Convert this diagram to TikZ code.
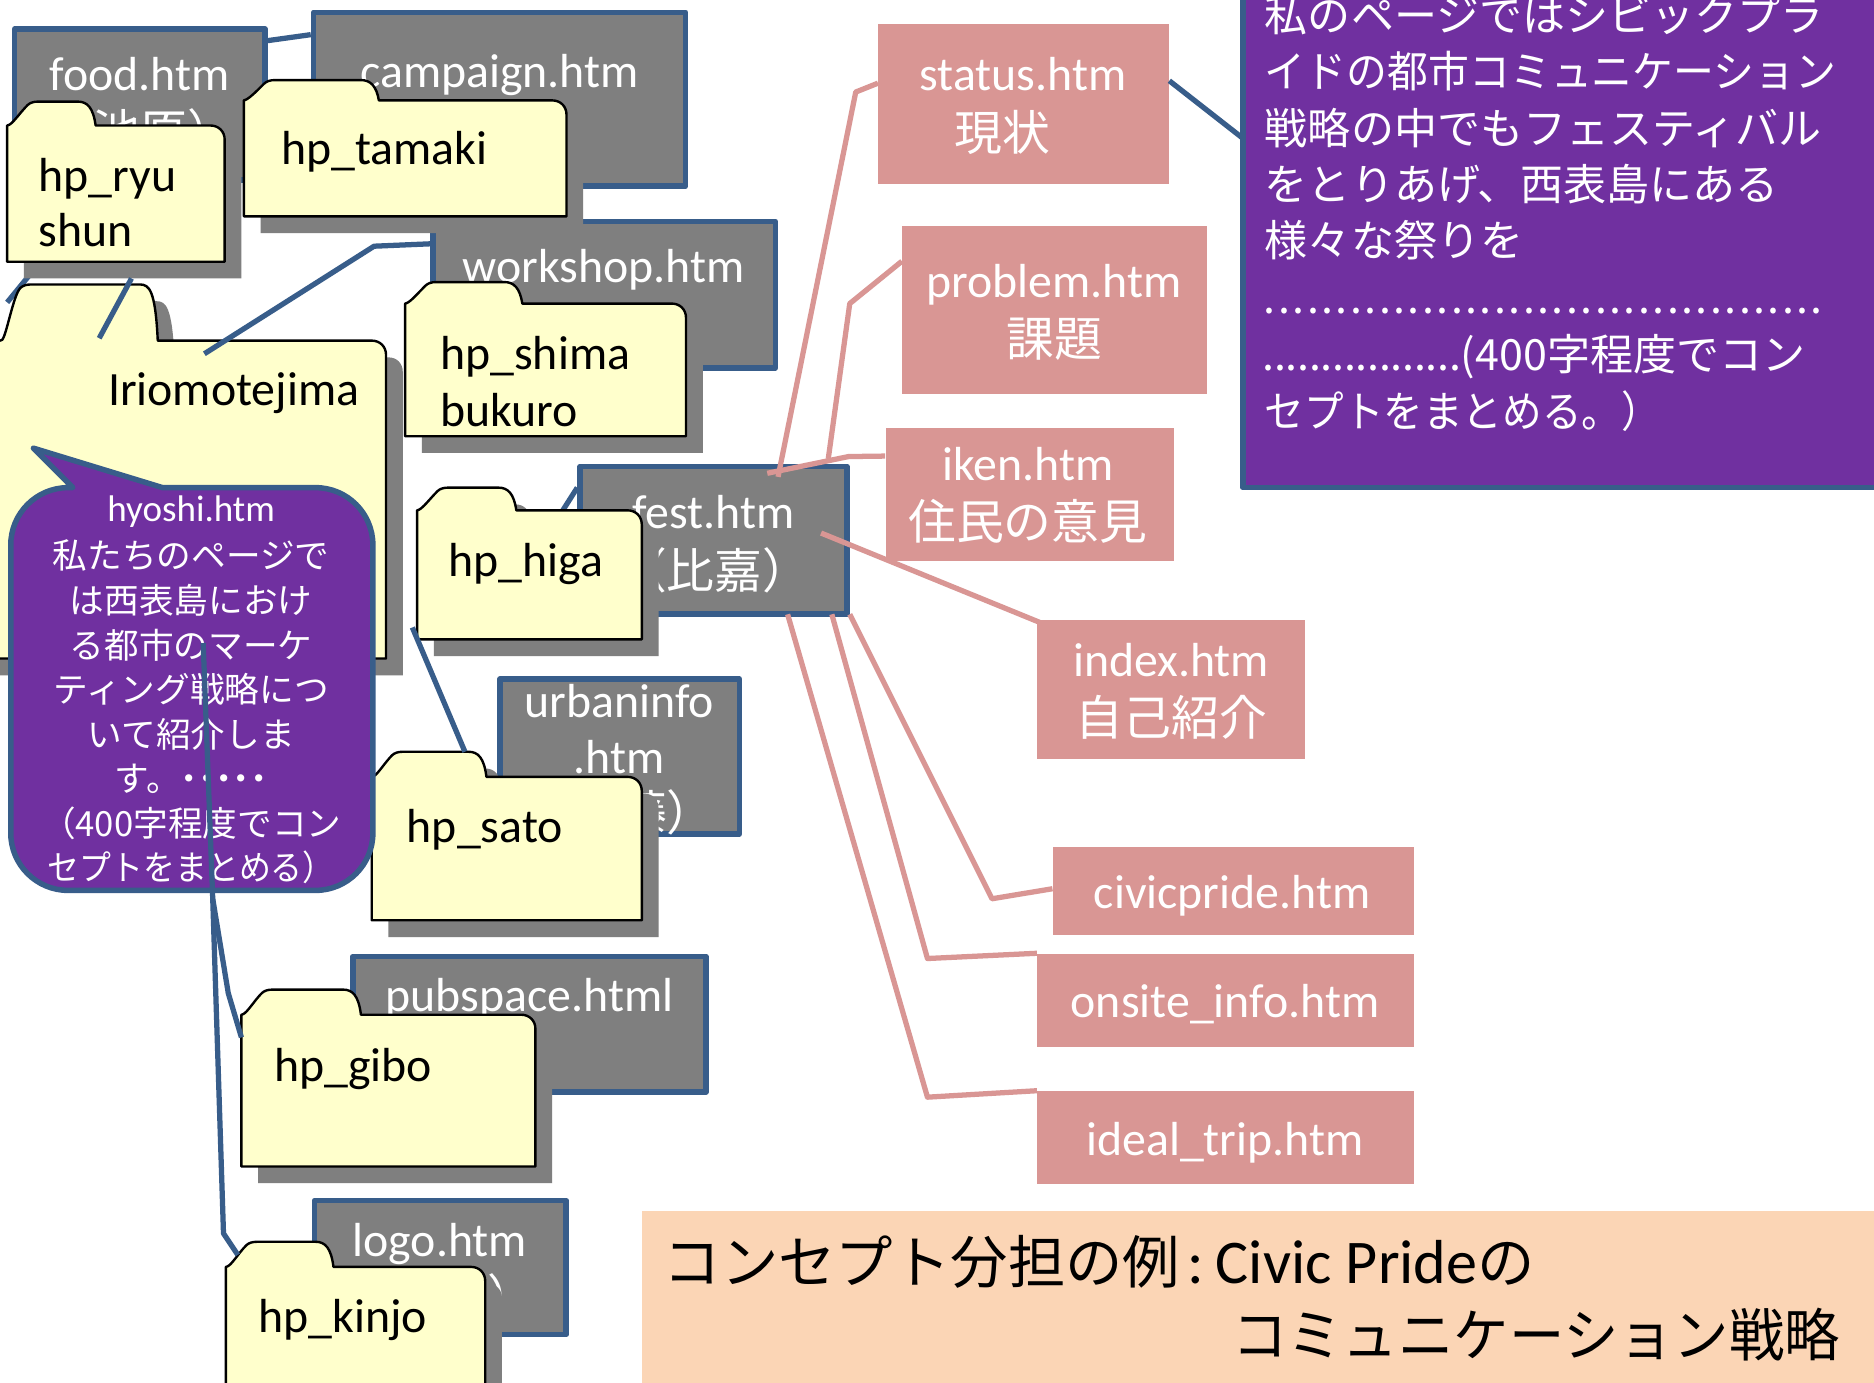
\documentclass[tikz,border=0pt]{standalone}
\usepackage{fontspec}
\usepackage{graphicx}
\setmainfont{Carlito}
\newfontfamily\jp{Noto Sans CJK JP}
\usetikzlibrary{calc}
\definecolor{boxgray}{HTML}{7F7F7F}
\definecolor{bblue}{HTML}{385D8A}
\definecolor{fyellow}{HTML}{FFFFCC}
\definecolor{pinkc}{HTML}{D99694}
\definecolor{purp}{HTML}{7030A0}
\definecolor{peachc}{HTML}{FBD5B5}

\newcommand\graynode[5]{\node[graybox, minimum width={(#4-#2-4.6)*0.5pt}, minimum height={(#5-#3-4.6)*0.5pt}] (#1) at ({(#2+#4)/2},{(#3+#5)/2}) {};}
\newcommand\pinknode[5]{\node[pinkbox, minimum width={(#4-#2)*0.5pt}, minimum height={(#5-#3)*0.5pt}] (#1) at ({(#2+#4)/2},{(#3+#5)/2}) {};}
% folder: L, T(body top), X(right), B(bottom), TL(tab left), R(tab right), H(tab top)
\newcommand\drawfolder[7]{%
 \fill[boxgray, shift={(14,14)}] (#1,#4) -- (#1,#2) -- (#5,#2) -- ({#5+1.5},{#2-0.5}) .. controls ({#5+5},{#2-2}) and ({#5+11},{#7+9}) .. ({#5+17},{#7+3}) .. controls ({#5+19},{#7+1}) and ({#5+22},{#7}) .. ({#5+26},{#7}) -- ({#6-15},{#7}) .. controls ({#6-7},{#7}) and ({#6-2},{#7+5}) .. (#6,#2) -- ({#3-12},#2) .. controls ({#3-5},#2) and (#3,{#2+5}) .. (#3,{#2+12}) -- (#3,#4) -- cycle;
 \filldraw[fill=fyellow, draw=black, line width=1pt] (#1,#4) -- (#1,#2) -- (#5,#2) -- ({#5+1.5},{#2-0.5}) .. controls ({#5+5},{#2-2}) and ({#5+11},{#7+9}) .. ({#5+17},{#7+3}) .. controls ({#5+19},{#7+1}) and ({#5+22},{#7}) .. ({#5+26},{#7}) -- ({#6-15},{#7}) .. controls ({#6-7},{#7}) and ({#6-2},{#7+5}) .. (#6,#2) -- ({#3-12},#2) .. controls ({#3-5},#2) and (#3,{#2+5}) .. (#3,{#2+12}) -- (#3,#4) -- cycle;
}

\begin{document}
\begin{tikzpicture}[x=0.5pt,y=-0.5pt,line join=round,
  graybox/.style={fill=boxgray, draw=bblue, line width=2.3pt, inner sep=0pt},
  pinkbox/.style={fill=pinkc, inner sep=0pt},
  wt/.style={text=white, inner sep=0pt},
  bk/.style={text=black, inner sep=0pt},
  L20/.style={font=\fontsize{20}{24}\selectfont},
  J20/.style={font=\fontsize{20}{24}\selectfont\jp},
  L15/.style={font=\fontsize{15.5}{18}\selectfont},
  J15/.style={font=\fontsize{14.5}{18}\selectfont\jp},
  J18/.style={font=\fontsize{18}{22}\selectfont\jp},
  bluelink/.style={draw=bblue, line width=2.2pt},
  pinklink/.style={draw=pinkc, line width=2.2pt}]
\path[use as bounding box] (0,0) rectangle (1568,1157);
\begin{scope}
\clip (0,0) rectangle (1568,1157);
\fill[white] (0,0) rectangle (1568,1157);

% ---- gray page boxes ----
\graynode{food}{10}{22}{224}{153}
\graynode{campaign}{260}{8}{576}{158}
\graynode{workshop}{360}{183}{651}{310}
\graynode{fest}{483}{388}{711}{516}
\graynode{urban}{416}{566}{621}{700}
\graynode{pubspace}{293}{798}{593}{916}
\graynode{logo}{261}{1002}{476}{1119}

% blue links lying under the folders
\coordinate (irioL) at (6,253);
\coordinate (ryuL) at (24,231);
\draw[bluelink] (irioL) -- (ryuL);
\draw[bluelink] ($(food.north east)+(0,12)$) -- ($(campaign.north west)+(0,21)$);
\coordinate (higaC) at (455,452);
\draw[bluelink] (higaC) -- ($(fest.north west)+(0,20)$);

\node[wt,L20,anchor=base] (foodt1) at (117,76) {food.htm};
\node[wt,J20,anchor=base] (foodt2) at (117,125) {（池原）};
\node[wt,L20,anchor=base] (campt) at (418,73) {campaign.htm};
\node[wt,L20,anchor=base] (workt) at (505,236) {workshop.htm};
\node[wt,L20,anchor=base] (festt1) at (597,442) {fest.htm};
\node[wt,J20,anchor=base] (festt2) at (598,492) {（比嘉）};
\node[wt,L20,anchor=base] (urbant1) at (518,600) {urbaninfo};
\node[wt,L20,anchor=base] (urbant2) at (518,647) {.htm};
\node[wt,J20,anchor=base] (urbant3) at (518,695) {（佐藤）};
\node[wt,L20,anchor=base] (pubt) at (443,846) {pubspace.html};
\node[wt,L20,anchor=base] (logot1) at (368,1051) {logo.htm};
\node[wt,J20,anchor=base] (logot2) at (368,1100) {（金城）};

% ---- folders ----
\drawfolder{6}{105}{188}{219}{6}{80}{85}
\node[bk,L20,anchor=base west] (ryut1) at (32,160) {hp\_ryu};
\node[bk,L20,anchor=base west] (ryut2) at (32,206) {shun};
\drawfolder{204}{84}{474}{181}{204}{317}{67}
\node[bk,L20,anchor=base west] (tamakit) at (235,138) {hp\_tamaki};
\drawfolder{-30}{285}{323}{551}{0}{132}{238}
\node[bk,L20,anchor=base west] (iriot) at (90,339) {Iriomotejima};
\drawfolder{339}{254}{574}{365}{339}{437}{236}
\node[bk,L20,anchor=base west] (shimat1) at (368,309) {hp\_shima};
\node[bk,L20,anchor=base west] (shimat2) at (368,357) {bukuro};
\drawfolder{349}{427}{537}{535}{349}{432}{408}
\node[bk,L20,anchor=base west] (higat) at (375,482) {hp\_higa};
\drawfolder{311}{650}{537}{770}{311}{407}{629}
\node[bk,L20,anchor=base west] (satot) at (340,705) {hp\_sato};
\drawfolder{202}{849}{448}{976}{202}{302}{828}
\node[bk,L20,anchor=base west] (gibot) at (229,905) {hp\_gibo};
\drawfolder{189}{1060}{406}{1200}{189}{279}{1039}
\node[bk,L20,anchor=base west] (kinjot) at (216,1115) {hp\_kinjo};

% blue links over the folders
\coordinate (irioA) at (83,283);
\coordinate (ryuB) at (110,233);
\draw[bluelink] (irioA) -- (ryuB);
\coordinate (irioB) at (171,296);
\draw[bluelink] (irioB) -- (313,206) -- ($(workshop.north west)+(0,21)$);
\coordinate (higaS) at (345,525);
\coordinate (satoT) at (389,629);
\draw[bluelink] (higaS) -- (satoT);

% ---- hyoshi speech bubble ----
\filldraw[fill=purp, draw=bblue, line width=2.3pt]
  (136,408) -- (264,408) .. controls (290.5,408) and (312,429.5) .. (312,456)
  -- (312,697) .. controls (312,723.5) and (290.5,745) .. (264,745)
  -- (57,745) .. controls (30.5,745) and (9,723.5) .. (9,697)
  -- (9,456) .. controls (9,429.5) and (30.5,408) .. (57,408)
  -- (61,408) -- (28,375) -- cycle;
\node[wt,L15,anchor=base] (b1) at (160,436) {hyoshi.htm};
\node[wt,J15,anchor=base] (b2) at (160,476) {私たちのページで};
\node[wt,J15,anchor=base] (b3) at (160,513.3) {は西表島におけ};
\node[wt,J15,anchor=base] (b4) at (160,550.6) {る都市のマーケ};
\node[wt,J15,anchor=base] (b5) at (160,588) {ティング戦略につ};
\node[wt,J15,anchor=base] (b6) at (160,625.2) {いて紹介しま};
\node[wt,J15,anchor=base] (b7) at (160,662.5) {す。\textbf{･････}};
\node[wt,J15,anchor=base] (b8) at (160,700) {（400字程度でコン};
\node[wt,J15,anchor=base] (b9) at (160,737) {\scalebox{0.92}[1]{セプトをまとめる）}};

% long link to gibo and kinjo
\coordinate (hyoA) at (170,538);
\coordinate (split) at (178,752);
\coordinate (giboL) at (202,868);
\coordinate (kinjoL) at (199,1050);
\draw[bluelink] (hyoA) -- (split) -- (191,831) -- (giboL);
\draw[bluelink] (split) -- (187,1032) -- (kinjoL);

% ---- pink boxes ----
\pinknode{status}{735}{20}{978}{154}
\pinknode{problem}{755}{189}{1010}{330}
\pinknode{iken}{741}{358}{982}{469}
\pinknode{index}{868}{519}{1092}{635}
\pinknode{civic}{881}{709}{1183}{782}
\pinknode{onsite}{868}{798}{1183}{876}
\pinknode{ideal}{868}{913}{1183}{991}
\node[wt,L20,anchor=base] (statust1) at (856,76) {status.htm};
\node[wt,J20,anchor=base] (statust2) at (839,126) {現状};
\node[wt,L20,anchor=base] (problemt1) at (882,249) {problem.htm};
\node[wt,J20,anchor=base] (problemt2) at (882,298) {課題};
\node[wt,L20,anchor=base] (ikent1) at (860,402) {iken.htm};
\node[wt,J20,anchor=base] (ikent2) at (860,451) {住民の意見};
\node[wt,L20,anchor=base] (indext1) at (980,566) {index.htm};
\node[wt,J20,anchor=base] (indext2) at (980,615) {自己紹介};
\node[wt,L20,anchor=base] (civict) at (1031,760) {civicpride.htm};
\node[wt,L20,anchor=base] (onsitet) at (1025,851) {onsite\_info.htm};
\node[wt,L20,anchor=base] (idealt) at (1025,967) {ideal\_trip.htm};

% pink links from fest
\coordinate (fS) at (651,399);
\coordinate (fP) at (693,384);
\coordinate (fI) at (642,396);
\coordinate (fX) at (687,446);
\draw[pinklink] (fS) -- (716,77) -- ($(status.north west)+(0,50)$);
\draw[pinklink] (fP) -- (711,254) -- ($(problem.north west)+(0,30)$);
\draw[pinklink] (fI) -- (710,382) -- ($(iken.north west)+(0,24)$);
\draw[pinklink] (fX) -- ($(index.north west)+(2,2)$);
\draw[pinklink] ($(fest.south east)+(0,-2)$) -- (830,752) -- ($(civic.north west)+(0,35)$);
\draw[pinklink] ($(fest.south east)+(-15,-2)$) -- (776,802) -- (onsite.north west);
\draw[pinklink] ($(fest.south east)+(-52,-2)$) -- (776,918) -- (ideal.north west);

% ---- right concept box ----
\filldraw[fill=purp, draw=bblue, line width=2.3pt] (1040,-20) rectangle (1600,408);
\node[inner sep=0pt] (rbox) at (1300,200) {};
\draw[bluelink] ($(status.north east)+(0,48)$) -- (1039,115);
\node[wt,J18,anchor=base west] (r1) at (1058,26) {私のページではシビックプラ};
\node[wt,J18,anchor=base west] (r2) at (1058,73) {\scalebox{0.95}[1]{イドの都市コミュニケーション}};
\node[wt,J18,anchor=base west] (r3) at (1058,120.5) {戦略の中でもフェスティバル};
\node[wt,J18,anchor=base west] (r4) at (1058,168) {をとりあげ、西表島にある};
\node[wt,J18,anchor=base west] (r5) at (1058,215) {様々な祭りを};
\node[wt,J18,anchor=base west] (r6) at (1056,262.5) {\hbox to 235pt{\xleaders\hbox to 5.95pt{\hss.\hss}\hfill}};
\node[wt,J18,anchor=base west] (r7) at (1056,310) {\hbox to 83pt{\xleaders\hbox to 4.85pt{\hss.\hss}\hfill}(400字程度でコン};
\node[wt,J18,anchor=base west] (r8) at (1058,357.5) {\scalebox{0.92}[1]{セプトをまとめる。）}};

% ---- title box ----
\fill[peachc] (537,1013) rectangle (1600,1180);
\node[bk,anchor=base west,font=\fontsize{26}{30}\selectfont] (p1) at (555,1074)
  {{\fontsize{24}{28}\selectfont\jp コンセプト分担の例}\hspace{3pt}:\hspace{5pt}Civic Pride{\fontsize{24}{28}\selectfont\jp の}};
\node[bk,anchor=base east,font=\fontsize{24}{28}\selectfont\jp] (p2) at (1540,1135) {\scalebox{0.965}[1]{コミュニケーション戦略}};
\end{scope}
\end{tikzpicture}
\end{document}
